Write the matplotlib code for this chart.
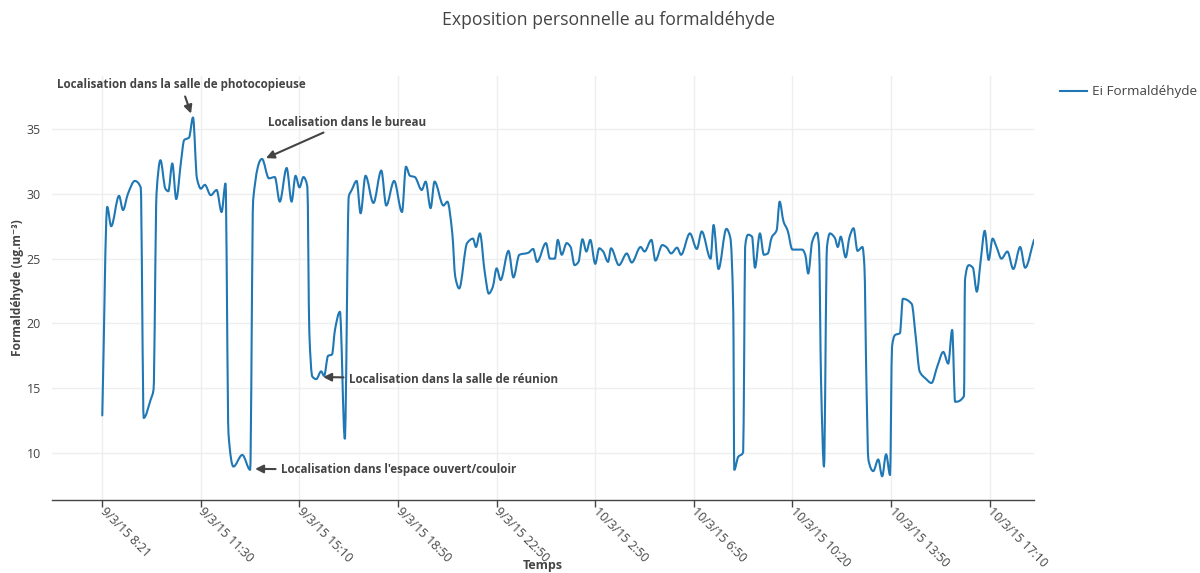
import numpy as np
import matplotlib.pyplot as plt
from matplotlib.path import Path
from matplotlib.patches import PathPatch
import matplotlib.transforms as mtransforms

plt.rcParams['font.family'] = ['Open Sans', 'DejaVu Sans']

# sample position along the (categorical) time axis, 100 units between labelled ticks
positions = [0, 5, 9, 17, 21, 26, 33, 39, 42, 49, 52, 55, 59, 64, 67, 71, 75, 80, 83, 88,
             92, 96, 100, 104, 110, 116, 121, 125, 128, 133, 142, 150, 153, 162, 169, 175, 180, 187, 192, 196,
             200, 204, 208, 210, 213, 217, 222, 225, 229, 233, 236, 241, 246, 250, 253, 258, 262, 267, 275, 283,
             288, 296, 304, 308, 312, 317, 324, 328, 333, 337, 346, 350, 355, 358, 362, 370, 376, 379, 383, 388,
             392, 396, 400, 404, 412, 417, 423, 432, 437, 441, 450, 454, 459, 462, 466, 471, 475, 479, 483, 487,
             491, 495, 500, 504, 508, 513, 516, 524, 532, 537, 546, 550, 557, 561, 568, 572, 577, 583, 587, 596,
             603, 608, 617, 620, 625, 633, 637, 640, 641, 645, 650, 651, 652, 655, 659, 662, 667, 671, 675, 679,
             684, 687, 691, 695, 700, 710, 713, 716, 720, 725, 727, 729, 732, 735, 738, 743, 746, 749, 754, 758,
             762, 766, 771, 773, 775, 777, 782, 787, 791, 795, 799, 801, 804, 809, 812, 821, 825, 829, 835, 841,
             847, 853, 858, 862, 865, 874, 875, 879, 883, 887, 891, 895, 899, 903, 907, 912, 918, 924, 931, 936,
             945]

formaldehyde = [12.9, 29.0, 27.5, 29.85, 28.75, 30.0, 31.0, 30.5, 12.7, 14.1, 14.9, 30.0, 32.6, 30.4, 30.2, 32.35, 29.6, 32.6, 34.15, 34.35,
                35.9, 31.2, 30.4, 30.7, 29.9, 30.3, 28.6, 30.8, 11.5, 8.95, 9.85, 8.7, 29.5, 32.7, 31.2, 31.3, 29.4, 32.0, 29.4, 31.4,
                30.5, 31.3, 30.55, 19.3, 15.9, 15.7, 16.3, 15.95, 17.5, 17.6, 19.5, 20.9, 11.1, 29.8, 30.3, 31.0, 28.5, 31.4, 29.3, 31.8,
                29.1, 31.0, 28.6, 32.1, 31.4, 31.3, 30.3, 30.95, 28.9, 30.95, 29.1, 29.4, 26.95, 23.6, 22.7, 26.2, 26.55, 25.9, 26.95, 23.9,
                22.3, 22.8, 24.25, 23.35, 25.6, 23.55, 25.3, 25.45, 25.75, 24.75, 26.2, 25.0, 25.0, 26.45, 25.3, 26.2, 25.9, 24.5, 24.75, 26.5,
                25.55, 26.45, 24.6, 25.8, 25.55, 24.75, 25.8, 24.5, 25.4, 24.7, 25.9, 25.55, 26.45, 24.85, 26.05, 25.9, 25.4, 25.85, 25.3, 26.95,
                25.75, 27.1, 25.0, 27.6, 24.2, 27.3, 26.6, 20.8, 8.7, 9.7, 10.05, 17.0, 25.9, 26.85, 26.7, 24.3, 26.95, 25.3, 25.4, 26.65,
                27.2, 29.4, 27.85, 27.2, 25.7, 25.7, 25.3, 23.85, 26.3, 27.0, 25.9, 15.6, 8.95, 25.9, 26.95, 26.6, 25.9, 26.7, 25.1, 26.7,
                27.35, 25.6, 25.9, 24.4, 15.6, 9.5, 8.6, 9.5, 8.2, 9.9, 8.3, 18.2, 19.1, 19.25, 21.9, 21.5, 19.0, 16.3, 15.75, 15.4,
                16.7, 17.8, 16.9, 19.5, 13.95, 14.4, 23.35, 24.5, 24.3, 22.45, 24.9, 27.15, 24.9, 26.55, 25.9, 25.0, 25.55, 24.2, 25.9, 24.3,
                26.45]

tick_positions = [0, 100, 200, 300, 400, 500, 600, 700, 800, 900]
tick_labels = ['9/3/15 8:21', '9/3/15 11:30', '9/3/15 15:10', '9/3/15 18:50', '9/3/15 22:50',
               '10/3/15 2:50', '10/3/15 6:50', '10/3/15 10:20', '10/3/15 13:50', '10/3/15 17:10']

annotations = [
    ('Localisation dans la salle de photocopieuse', (90, 36.2), (-10, 29), 'center'),
    ('Localisation dans le bureau', (166, 32.76), (81, 36), 'center'),
    ('Localisation dans la salle de réunion', (224, 15.86), (26, -2), 'left'),
    ("Localisation dans l'espace ouvert/couloir", (155, 8.77), (26, -1), 'left'),
]

color = '#1f77b4'
grey = '#444444'


def smooth_path(x, y):
    # monotone cubic (PCHIP-like) tangents, drawn as Bezier segments
    x = np.asarray(x, float)
    y = np.asarray(y, float)
    h = np.diff(x)
    d = np.diff(y) / h
    m = np.zeros_like(y)
    m[0], m[-1] = d[0], d[-1]
    for k in range(1, len(x) - 1):
        if d[k - 1] * d[k] > 0:
            w1 = 2 * h[k] + h[k - 1]
            w2 = h[k] + 2 * h[k - 1]
            m[k] = (w1 + w2) / (w1 / d[k - 1] + w2 / d[k])
    verts = [(x[0], y[0])]
    codes = [Path.MOVETO]
    for k in range(len(x) - 1):
        verts += [(x[k] + h[k] / 3, y[k] + m[k] * h[k] / 3),
                  (x[k + 1] - h[k] / 3, y[k + 1] - m[k + 1] * h[k] / 3),
                  (x[k + 1], y[k + 1])]
        codes += [Path.CURVE4] * 3
    return Path(verts, codes)


fig = plt.figure(figsize=(12, 5.73), dpi=100)
ax = fig.add_axes([52 / 1200, 1 - 500 / 573, 982 / 1200, 424 / 573])

ax.add_patch(PathPatch(smooth_path(positions, formaldehyde), fill=False,
                       edgecolor=color, lw=1.5, capstyle='round', joinstyle='round', zorder=3))
ax.plot([], [], color=color, lw=1.5, label='Ei Formaldéhyde')

ax.set_xlim(-51, 945)
ax.set_ylim(6.37, 39.1)

ax.set_yticks([10, 15, 20, 25, 30, 35])
ax.set_xticks(tick_positions)
ax.set_xticklabels(tick_labels, rotation=-45, ha='left', va='center',
                   rotation_mode='anchor', fontsize=8.8, color=grey)
offset = mtransforms.ScaledTranslation(-12 / 100, -7 / 100, fig.dpi_scale_trans)
for lab in ax.get_xticklabels():
    lab.set_transform(lab.get_transform() + offset)

ax.tick_params(axis='y', length=0, labelsize=9, labelcolor=grey, pad=8)
ax.tick_params(axis='x', length=5, width=1, color=grey, pad=2)
ax.grid(True, color='#eeeeee', lw=1)
ax.set_axisbelow(True)
for s in ['top', 'right', 'left']:
    ax.spines[s].set_visible(False)
ax.spines['bottom'].set_color(grey)
ax.spines['bottom'].set_linewidth(1)

ax.set_xlabel('Temps', fontsize=9, fontweight='bold', color=grey)
ax.xaxis.set_label_coords(0.5, -0.138)
ax.set_ylabel('Formaldéhyde (ug.m⁻³)', fontsize=8.6, fontweight='bold', color=grey)
ax.yaxis.set_label_coords(-0.029, 0.5)

for text, xy, off, ha in annotations:
    ax.annotate(text, xy=xy, xytext=off, textcoords='offset pixels',
                ha=ha, va='center', fontsize=8.4, fontweight='bold', color=grey,
                arrowprops=dict(arrowstyle='-|>', color=grey, lw=1.5,
                                mutation_scale=12, shrinkA=2, shrinkB=0))

fig.text(609 / 1200, 1 - 20 / 573, 'Exposition personnelle au formaldéhyde',
         ha='center', va='center', fontsize=12.7, color=grey)

fig.legend(loc='upper left', bbox_to_anchor=(1055 / 1200, 1 - 80 / 573), frameon=False,
           fontsize=9.7, handlelength=2.0, handletextpad=0.35, borderaxespad=0, labelcolor=grey)

fig.savefig('out.png', dpi=100)
